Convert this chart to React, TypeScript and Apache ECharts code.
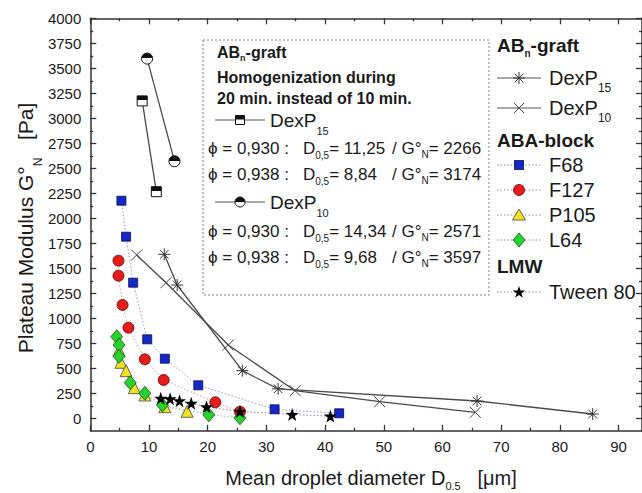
import React, { useEffect, useRef } from 'react';
import * as echarts from 'echarts';

// ---------- data ----------
const xTicks = [0, 10, 20, 30, 40, 50, 60, 70, 80, 90];
const xMinor = [5, 15, 25, 35, 45, 55, 65, 75, 85];
const yTicks = [0, 250, 500, 750, 1000, 1250, 1500, 1750, 2000, 2250, 2500, 2750, 3000, 3250, 3500, 3750, 4000];
const yMinor = [125, 375, 625, 875, 1125, 1375, 1625, 1875, 2125, 2375, 2625, 2875, 3125, 3375, 3625, 3875];

const dexP15X = [12.6, 14.8, 25.9, 32.0, 65.9, 85.6];
const dexP15Y = [1640, 1333, 476, 295, 173, 43];
const dexP10X = [7.9, 12.9, 23.5, 34.9, 49.3, 65.6];
const dexP10Y = [1633, 1356, 733, 276, 166, 60];
const dexP15hX = [8.84, 11.25];
const dexP15hY = [3174, 2266];
const dexP10hX = [9.68, 14.34];
const dexP10hY = [3597, 2571];
const f68X = [5.3, 6.1, 7.3, 9.7, 12.7, 18.4, 31.4, 42.4];
const f68Y = [2176, 1816, 1356, 790, 596, 330, 90, 50];
const f127X = [4.8, 4.8, 5.5, 6.5, 9.3, 12.5, 21.3, 25.5];
const f127Y = [1576, 1426, 1133, 906, 590, 383, 160, 66];
const p105X = [4.9, 5.2, 6.1, 7.5, 9.3, 12.7, 16.5];
const p105Y = [680, 560, 476, 306, 233, 116, 70];
const l64X = [4.5, 4.9, 4.9, 6.8, 9.3, 12.3, 20.2, 25.5];
const l64Y = [816, 733, 620, 356, 250, 133, 35, 5];
const tweenX = [12.0, 13.6, 15.2, 17.2, 19.8, 25.5, 34.4, 40.9];
const tweenY = [200, 195, 175, 150, 115, 68, 38, 22];

// ---------- styling helpers ----------
const FONT = "'Liberation Sans', Arial, sans-serif";
const INK = '#1a1a1a';
const AX = '#333';

const C_F68 = '#1428c8';
const C_F127 = '#e41c1c';
const C_P105 = '#f2e322';
const C_L64 = '#28d22c';

let measureCtx: CanvasRenderingContext2D | null = null;
function textWidth(t: string, size: number, weight = 'normal') {
  if (!measureCtx) measureCtx = document.createElement('canvas').getContext('2d');
  measureCtx!.font = `${weight} ${size}px 'Liberation Sans', Arial, sans-serif`;
  return measureCtx!.measureText(t).width;
}

type Seg = { t: string; size: number; dy?: number; weight?: string };

function runText(x: number, y: number, segs: Seg[], align: 'left' | 'center' = 'left'): any[] {
  const widths = segs.map((s) => textWidth(s.t, s.size, s.weight || 'normal'));
  const total = widths.reduce((a, b) => a + b, 0);
  let cx = align === 'center' ? x - total / 2 : x;
  const out: any[] = [];
  segs.forEach((s, i) => {
    out.push({
      type: 'text',
      x: cx,
      y: y + (s.dy || 0),
      silent: true,
      style: {
        text: s.t,
        fontSize: s.size,
        fontWeight: s.weight || 'normal',
        fontFamily: FONT,
        fill: INK,
        align: 'left',
        verticalAlign: 'middle',
      },
    });
    cx += widths[i];
  });
  return out;
}

const ln = (x1: number, y1: number, x2: number, y2: number, stroke = '#555', lw = 1.2, dash?: number[]) => ({
  type: 'line',
  silent: true,
  shape: { x1, y1, x2, y2 },
  style: { stroke, lineWidth: lw, lineDash: dash },
});

function asterisk(cx: number, cy: number, r: number) {
  const d = r * 0.72;
  return [
    ln(cx, cy - r, cx, cy + r, '#333', 1),
    ln(cx - r, cy, cx + r, cy, '#333', 1),
    ln(cx - d, cy - d, cx + d, cy + d, '#333', 1),
    ln(cx - d, cy + d, cx + d, cy - d, '#333', 1),
  ];
}
function cross(cx: number, cy: number, r: number) {
  return [ln(cx - r, cy - r, cx + r, cy + r, '#444', 1), ln(cx - r, cy + r, cx + r, cy - r, '#444', 1)];
}
function starPts(cx: number, cy: number, R: number) {
  const pts: number[][] = [];
  for (let i = 0; i < 10; i++) {
    const rr = i % 2 === 0 ? R : R * 0.4;
    const a = -Math.PI / 2 + (i * Math.PI) / 5;
    pts.push([cx + rr * Math.cos(a), cy + rr * Math.sin(a)]);
  }
  return pts;
}
function legendSymbol(kind: string, cx: number, cy: number): any[] {
  switch (kind) {
    case 'square':
      return [{ type: 'rect', silent: true, shape: { x: cx - 4.5, y: cy - 4.5, width: 9, height: 9 }, style: { fill: C_F68, stroke: '#0a0a50', lineWidth: 0.8 } }];
    case 'circle':
      return [{ type: 'circle', silent: true, shape: { cx, cy, r: 5.5 }, style: { fill: C_F127, stroke: '#600', lineWidth: 0.8 } }];
    case 'triangle':
      return [{ type: 'polygon', silent: true, shape: { points: [[cx, cy - 6], [cx + 6.5, cy + 5], [cx - 6.5, cy + 5]] }, style: { fill: C_P105, stroke: '#444', lineWidth: 0.8 } }];
    case 'diamond':
      return [{ type: 'polygon', silent: true, shape: { points: [[cx, cy - 7], [cx + 6, cy], [cx, cy + 7], [cx - 6, cy]] }, style: { fill: C_L64, stroke: '#185018', lineWidth: 0.8 } }];
    case 'star':
      return [{ type: 'polygon', silent: true, shape: { points: starPts(cx, cy + 0.5, 6.5) }, style: { fill: '#000' } }];
    case 'asterisk':
      return asterisk(cx, cy, 6);
    case 'cross':
      return cross(cx, cy, 5);
    case 'halfSquare':
      return [
        { type: 'rect', silent: true, shape: { x: cx - 4.5, y: cy - 4.5, width: 9, height: 9 }, style: { fill: '#fff', stroke: '#111', lineWidth: 1 } },
        { type: 'rect', silent: true, shape: { x: cx - 4.5, y: cy - 4.5, width: 9, height: 4 }, style: { fill: '#111' } },
      ];
    case 'halfCircle':
      return [
        { type: 'circle', silent: true, shape: { cx, cy, r: 5 }, style: { fill: '#fff', stroke: '#111', lineWidth: 1 } },
        { type: 'sector', silent: true, shape: { cx, cy, r0: 0, r: 5, startAngle: Math.PI, endAngle: 2 * Math.PI, clockwise: true }, style: { fill: '#111' } },
      ];
  }
  return [];
}

const asteriskPath = 'path://M0,-6L0,6M-6,0L6,0M-4.3,-4.3L4.3,4.3M-4.3,4.3L4.3,-4.3';
const crossPath = 'path://M-5,-5L5,5M-5,5L5,-5';
const starPath =
  'path://M0,-10L2.35,-3.24L9.51,-3.09L3.8,1.24L5.88,8.09L0,4L-5.88,8.09L-3.8,1.24L-9.51,-3.09L-2.35,-3.24Z';

const pairs = (xs: number[], ys: number[]) => xs.map((x, i) => [x, ys[i]]);

function halfGradient() {
  return new echarts.graphic.LinearGradient(0, 0, 0, 1, [
    { offset: 0, color: '#111' },
    { offset: 0.45, color: '#111' },
    { offset: 0.45, color: '#fff' },
    { offset: 1, color: '#fff' },
  ]);
}

function buildOption(): any {
  const axisLine = { show: true, onZero: false, lineStyle: { color: AX, width: 1.5 } };
  const tickLine = { color: AX, width: 1.3 };
  const label = { fontSize: 15, fontFamily: FONT, color: INK, formatter: (v: number) => String(v) };

  const xBase = { type: 'value', min: 0, max: 94, splitLine: { show: false } };
  const yBase = { type: 'value', min: -125, max: 4000, splitLine: { show: false } };

  const xAxis = [
    { ...xBase, position: 'bottom', axisLine, axisTick: { show: true, inside: true, length: 6, customValues: xTicks, lineStyle: tickLine }, axisLabel: { ...label, show: true, margin: 8, customValues: xTicks } },
    { ...xBase, position: 'top', axisLine, axisTick: { show: true, inside: true, length: 6, customValues: xTicks, lineStyle: tickLine }, axisLabel: { show: false } },
    { ...xBase, position: 'bottom', axisLine: { show: false, onZero: false }, axisTick: { show: true, inside: true, length: 3, customValues: xMinor, lineStyle: tickLine }, axisLabel: { show: false } },
    { ...xBase, position: 'top', axisLine: { show: false, onZero: false }, axisTick: { show: true, inside: true, length: 3, customValues: xMinor, lineStyle: tickLine }, axisLabel: { show: false } },
  ];
  const yAxis = [
    { ...yBase, position: 'left', axisLine, axisTick: { show: true, inside: true, length: 6, customValues: yTicks, lineStyle: tickLine }, axisLabel: { ...label, show: true, margin: 9, customValues: yTicks } },
    { ...yBase, position: 'right', axisLine, axisTick: { show: true, inside: true, length: 6, customValues: yTicks, lineStyle: tickLine }, axisLabel: { show: false } },
    { ...yBase, position: 'left', axisLine: { show: false, onZero: false }, axisTick: { show: true, inside: true, length: 3, customValues: yMinor, lineStyle: tickLine }, axisLabel: { show: false } },
    { ...yBase, position: 'right', axisLine: { show: false, onZero: false }, axisTick: { show: true, inside: true, length: 3, customValues: yMinor, lineStyle: tickLine }, axisLabel: { show: false } },
  ];

  const dotted = (color: string) => ({ type: [1.5, 2], width: 1, color });
  const solid = { type: 'solid', width: 1.3, color: '#4a4a4a' };
  const common = { type: 'line', xAxisIndex: 0, yAxisIndex: 0, clip: false, silent: true, showSymbol: true };

  const series = [
    { ...common, name: 'F68', data: pairs(f68X, f68Y), symbol: 'rect', symbolSize: 9, lineStyle: dotted('#8d9bd0'), itemStyle: { color: C_F68, borderColor: '#0a0a50', borderWidth: 0.8 } },
    { ...common, name: 'F127', data: pairs(f127X, f127Y), symbol: 'circle', symbolSize: 11, lineStyle: dotted('#d49a9a'), itemStyle: { color: C_F127, borderColor: '#600', borderWidth: 0.8 } },
    { ...common, name: 'P105', data: pairs(p105X, p105Y), symbol: 'triangle', symbolSize: 12, lineStyle: dotted('#c4bd8c'), itemStyle: { color: C_P105, borderColor: '#444', borderWidth: 0.8 } },
    { ...common, name: 'L64', data: pairs(l64X, l64Y), symbol: 'diamond', symbolSize: [12, 14], lineStyle: dotted('#8fc48f'), itemStyle: { color: C_L64, borderColor: '#185018', borderWidth: 0.8 } },
    { ...common, name: 'Tween 80', data: pairs(tweenX, tweenY), symbol: starPath, symbolSize: 13, lineStyle: dotted('#8a8a8a'), itemStyle: { color: '#000' } },
    { ...common, name: 'DexP15', data: pairs(dexP15X, dexP15Y), symbol: asteriskPath, symbolSize: 12, lineStyle: solid, itemStyle: { color: 'rgba(0,0,0,0)', borderColor: '#333', borderWidth: 1 } },
    { ...common, name: 'DexP10', data: pairs(dexP10X, dexP10Y), symbol: crossPath, symbolSize: 11, lineStyle: solid, itemStyle: { color: 'rgba(0,0,0,0)', borderColor: '#444', borderWidth: 1 } },
    { ...common, name: 'DexP15 20 min', data: pairs(dexP15hX, dexP15hY), symbol: 'rect', symbolSize: 10, lineStyle: solid, itemStyle: { color: halfGradient(), borderColor: '#111', borderWidth: 1 } },
    { ...common, name: 'DexP10 20 min', data: pairs(dexP10hX, dexP10hY), symbol: 'circle', symbolSize: 11, lineStyle: solid, itemStyle: { color: halfGradient(), borderColor: '#111', borderWidth: 1 } },
  ];

  // ----- graphic: axis titles, inset box, legend -----
  const g: any[] = [];
  // x title
  g.push(...runText(371, 478, [
    { t: 'Mean droplet diameter D', size: 20 },
    { t: '0.5', size: 11, dy: 8 },
    { t: '   [\u03bcm]', size: 20 },
  ], 'center'));
  // y title (rotated)
  g.push({
    type: 'group', x: 25, y: 228, rotation: Math.PI / 2, silent: true,
    children: runText(0, 0, [
      { t: 'Plateau Modulus G\u00b0', size: 21 },
      { t: 'N', size: 12, dy: 13 },
      { t: '   [Pa]', size: 21 },
    ], 'center'),
  });

  // inset box
  g.push({ type: 'rect', silent: true, shape: { x: 203, y: 40, width: 286, height: 255 }, style: { fill: 'none', stroke: '#808080', lineWidth: 1, lineDash: [2, 2] } });
  g.push(...runText(217, 52, [
    { t: 'AB', size: 16, weight: 'bold' },
    { t: 'n', size: 9, weight: 'bold', dy: 6 },
    { t: '-graft', size: 16, weight: 'bold' },
  ]));
  g.push(...runText(217, 77, [{ t: 'Homogenization during', size: 16, weight: 'bold' }]));
  g.push(...runText(217, 98, [{ t: '20 min. instead of 10 min.', size: 16, weight: 'bold' }]));
  // inset DexP15 row
  g.push(ln(215, 120, 265, 120, '#555', 1.2));
  g.push(...legendSymbol('halfSquare', 240, 120));
  g.push(...runText(270, 120, [{ t: 'DexP', size: 19 }, { t: '15', size: 11, dy: 11 }]));
  const phiLine = (y: number, phi: string, d: string, gn: string) => {
    g.push(...runText(208, y, [{ t: '\u03d5 = ' + phi + ' :', size: 17 }]));
    g.push(...runText(303, y, [{ t: 'D', size: 17 }, { t: '0,5', size: 10, dy: 7 }, { t: '= ' + d, size: 17 }]));
    g.push(...runText(392, y, [{ t: '/ G\u00b0', size: 17 }, { t: 'N', size: 10, dy: 6 }, { t: '= ' + gn, size: 17 }]));
  };
  phiLine(148, '0,930', '11,25', '2266');
  phiLine(174, '0,938', '8,84', '3174');
  g.push(ln(215, 202, 265, 202, '#555', 1.2));
  g.push(...legendSymbol('halfCircle', 240, 202));
  g.push(...runText(270, 202, [{ t: 'DexP', size: 19 }, { t: '10', size: 11, dy: 11 }]));
  phiLine(231, '0,930', '14,34', '2571');
  phiLine(257, '0,938', '9,68', '3597');

  // right legend
  const LX = 497;
  const head = (y: number, segs: Seg[]) => g.push(...runText(LX, y, segs));
  head(45, [{ t: 'AB', size: 19, weight: 'bold' }, { t: 'n', size: 10, weight: 'bold', dy: 8 }, { t: '-graft', size: 19, weight: 'bold' }]);
  const entry = (y: number, kind: string, dottedLine: boolean, segs: Seg[]) => {
    if (dottedLine) g.push(ln(LX, y, LX + 44, y, '#8a8a8a', 1, [1.5, 2]));
    else g.push(ln(LX, y, LX + 44, y, '#555', 1.2));
    g.push(...legendSymbol(kind, LX + 22, y));
    g.push(...runText(549, y, segs));
  };
  entry(78, 'asterisk', false, [{ t: 'DexP', size: 20 }, { t: '15', size: 12, dy: 10 }]);
  entry(108, 'cross', false, [{ t: 'DexP', size: 20 }, { t: '10', size: 12, dy: 10 }]);
  head(140, [{ t: 'ABA-block', size: 19, weight: 'bold' }]);
  entry(165, 'square', true, [{ t: 'F68', size: 20 }]);
  entry(190, 'circle', true, [{ t: 'F127', size: 20 }]);
  entry(215, 'triangle', true, [{ t: 'P105', size: 20 }]);
  entry(240, 'diamond', true, [{ t: 'L64', size: 20 }]);
  head(266, [{ t: 'LMW', size: 19, weight: 'bold' }]);
  entry(292, 'star', true, [{ t: 'Tween 80', size: 20 }]);

  return {
    animation: false,
    backgroundColor: '#fff',
    textStyle: { fontFamily: FONT },
    grid: { left: 90.3, top: 18.3, width: 552.2, height: 412.5, containLabel: false },
    xAxis,
    yAxis,
    series,
    graphic: { elements: g },
  };
}

export default function App() {
  const ref = useRef<HTMLDivElement>(null);
  useEffect(() => {
    if (!ref.current) return;
    const chart = echarts.init(ref.current, undefined, { renderer: 'svg' });
    chart.setOption(buildOption());
    return () => chart.dispose();
  }, []);
  return (
    <div
      ref={ref}
      style={{ position: 'fixed', left: 0, top: 0, width: 642, height: 493, background: '#fff' }}
    />
  );
}
